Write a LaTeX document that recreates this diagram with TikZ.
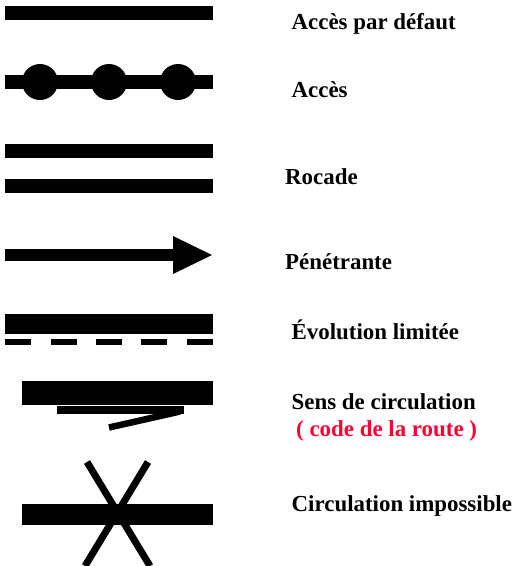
\documentclass[tikz,border=0pt]{standalone}
\usepackage{fontspec}
\setmainfont{Liberation Serif}
\definecolor{legred}{RGB}{255,0,51}
\begin{document}
\begin{tikzpicture}[x=1pt,y=-1pt,
  lab/.style={anchor=base west,inner sep=0pt,font=\fontsize{22.9}{27}\selectfont\bfseries},
  road/.style={fill=black}]
\useasboundingbox (0,0) rectangle (517,566);
% 1 Acces par defaut
\fill[road] (5,6) rectangle (213,20);
\node[lab] (t1) at (291.5,29.3) {Accès par défaut};
% 2 Acces
\fill[road] (5,75) rectangle (213,89);
\foreach \cx in {40,109,178} \fill (\cx,82) circle (18);
\node[lab] (t2) at (291.5,97.3) {Accès};
% 3 Rocade
\fill[road] (5,144) rectangle (213,158);
\fill[road] (5,179) rectangle (213,193);
\node[lab] (t3) at (285,184.3) {Rocade};
% 4 Penetrante
\fill[road] (5,248.5) rectangle (174,261);
\fill (173,236) -- (212,255) -- (173,274) -- cycle;
\node[lab] (t4) at (285,269.3) {Pénétrante};
% 5 Evolution limitee
\fill[road] (5,314) rectangle (213,334);
\foreach \dx in {5,50.5,96,141.3,186.7} \fill (\dx,338.5) rectangle ++(26,6);
\node[lab] (t5) at (291.5,339) {Évolution limitée};
% 6 Sens de circulation
\fill[road] (22,381) rectangle (213,405);
\fill[road] (57,406) rectangle (184,414);
\draw[line width=6.5pt] (109,427.5) -- (180,411.5);
\node[lab] (t6) at (291.5,409.3) {Sens de circulation};
\node[lab,text=legred] (t7) at (296,436) {( code de la route )};
% 7 Circulation impossible
\fill[road] (22,504) rectangle (213,525);
\draw[line width=7pt] (87,462) -- (150,566);
\draw[line width=7pt] (148,462) -- (85,566);
\node[lab] (t8) at (291.5,511.7) {Circulation impossible};
\end{tikzpicture}
\end{document}
